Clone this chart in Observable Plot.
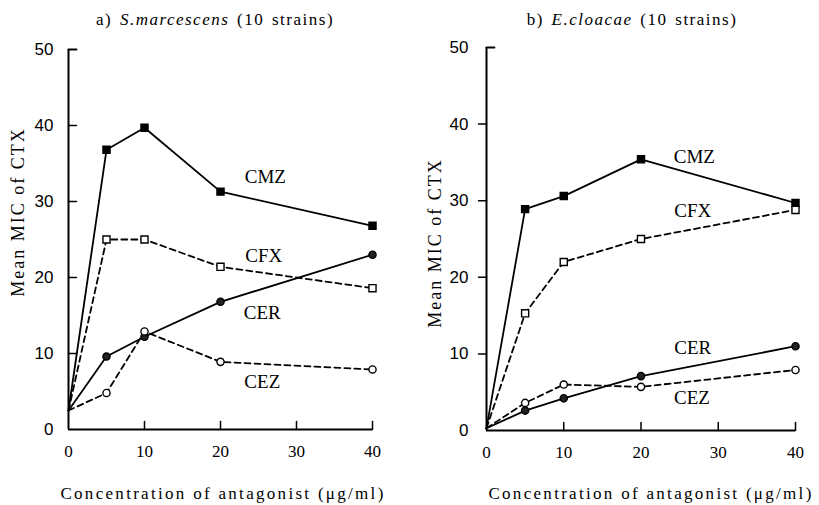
<!DOCTYPE html>
<html><head><meta charset="utf-8">
<script src="https://cdn.jsdelivr.net/npm/d3@7"></script>
<script src="https://cdn.jsdelivr.net/npm/@observablehq/plot@0.6"></script>
<style>
html,body{margin:0;padding:0;background:#fff;}
#wrap{position:relative;width:819px;height:505px;overflow:hidden;font-family:"Liberation Serif",serif;color:#000;}
.panel{position:absolute;top:0;}
.lbl{position:absolute;white-space:nowrap;transform:translate(-50%,-50%);}
.title{font-size:17px;letter-spacing:1.5px;word-spacing:2px;}
.xlab{font-size:17px;letter-spacing:2.3px;}
.ylab{font-size:18px;letter-spacing:2px;transform:translate(-50%,-50%) rotate(-90deg);}
</style></head><body><div id="wrap"></div>
<script>
// concentrations of antagonist (µg/ml)
const conc = [0, 5, 10, 20, 40];
const xTicks = [0, 10, 20, 30, 40];
const yTicks = [0, 10, 20, 30, 40, 50];
const seriesNames = ["CMZ", "CFX", "CER", "CEZ"];

// a) S. marcescens — mean MIC of CTX
const smCMZ = [2.5, 36.8, 39.7, 31.3, 26.8];
const smCFX = [2.5, 25.0, 25.0, 21.4, 18.6];
const smCER = [2.5, 9.6, 12.2, 16.8, 23.0];
const smCEZ = [2.5, 4.8, 12.9, 8.9, 7.9];

// b) E. cloacae — mean MIC of CTX
const ecCMZ = [0.3, 28.9, 30.6, 35.4, 29.7];
const ecCFX = [0.3, 15.3, 22.0, 25.0, 28.8];
const ecCER = [0.3, 2.6, 4.2, 7.1, 11.0];
const ecCEZ = [0.3, 3.6, 6.0, 5.7, 7.9];

// series label anchors (data units)
const smLabelX = [25.9, 25.7, 25.5, 25.5];
const smLabelY = [33.2, 22.9, 15.4, 6.2];
const ecLabelX = [26.9, 26.7, 26.7, 26.6];
const ecLabelY = [35.7, 28.7, 10.8, 4.2];

const titleA = "a) <i>S.marcescens</i> (10 strains)";
const titleB = "b) <i>E.cloacae</i> (10 strains)";
const xLabel = "Concentration of antagonist (μg/ml)";
const yLabel = "Mean MIC of CTX";

const styles = {
  CMZ: {dash: null, symbol: "square", fill: "black", r: 4},
  CFX: {dash: "6,4", symbol: "square", fill: "white", r: 4},
  CER: {dash: null, symbol: "circle", fill: "#222", r: 3.6},
  CEZ: {dash: "6,4", symbol: "circle", fill: "white", r: 3.6}
};

const tickShape = {draw(ctx, l) { ctx.moveTo(0, 0); ctx.lineTo(0, -l); }};

function panel(cfg) {
  const values = [cfg.CMZ, cfg.CFX, cfg.CER, cfg.CEZ];
  const marks = [];
  seriesNames.forEach((s, i) => {
    const rows = conc.map((c, j) => ({x: c, y: values[i][j]}));
    marks.push(Plot.line(rows, {x: "x", y: "y", stroke: "black", strokeWidth: 1.8, strokeDasharray: styles[s].dash}));
  });
  seriesNames.forEach((s, i) => {
    const rows = conc.map((c, j) => ({x: c, y: values[i][j]})).filter(d => d.x > 0);
    marks.push(Plot.dot(rows, {x: "x", y: "y", symbol: styles[s].symbol, r: styles[s].r, fill: styles[s].fill, stroke: "black", strokeWidth: 1.4}));
  });
  const labels = seriesNames.map((s, i) => ({s, x: cfg.labelX[i], y: cfg.labelY[i]}));
  return Plot.plot({
    width: cfg.width, height: 505,
    marginLeft: cfg.ml, marginRight: cfg.mr, marginTop: cfg.mt, marginBottom: cfg.mb,
    x: {domain: [0, 40]},
    y: {domain: [0, 50]},
    style: {fontFamily: "Liberation Serif, serif", background: "white"},
    marks: [
      Plot.axisX({ticks: xTicks, tickSize: 0, tickPadding: 15, fontSize: 17, fontFamily: "Liberation Serif", label: null}),
      Plot.axisY({ticks: yTicks, tickSize: 0, tickPadding: cfg.yPad, fontSize: 17, fontFamily: "Liberation Sans", label: null}),
      Plot.ruleX([0], {strokeWidth: 2}),
      Plot.ruleY([0], {strokeWidth: 2}),
      Plot.vector(yTicks.filter(d => d > 0 && d < 50), {x: () => 0, y: d => d, length: 8, rotate: cfg.yTickRot, anchor: "start", shape: tickShape, stroke: "black", strokeWidth: 1.5}),
      Plot.vector(yTicks.filter(d => d === 50), {x: () => 0, y: d => d, length: 8, rotate: 90, anchor: "start", shape: tickShape, stroke: "black", strokeWidth: 1.8}),
      Plot.vector(xTicks.filter(d => d > 0), {x: d => d, y: () => 0, length: 8, rotate: 0, anchor: "start", shape: tickShape, stroke: "black", strokeWidth: 1.5}),
      ...marks,
      Plot.text(labels, {x: "x", y: "y", text: "s", fontSize: 19, fontFamily: "Liberation Serif", fill: "black"})
    ]
  });
}

const wrap = document.getElementById("wrap");
function place(el, left) { el.classList.add("panel"); el.style.left = left + "px"; wrap.appendChild(el); }
place(panel({CMZ: smCMZ, CFX: smCFX, CER: smCER, CEZ: smCEZ, labelX: smLabelX, labelY: smLabelY,
  width: 410, ml: 68, mr: 38, mt: 49, mb: 76, yPad: 15, yTickRot: 90}), 0);
place(panel({CMZ: ecCMZ, CFX: ecCFX, CER: ecCER, CEZ: ecCEZ, labelX: ecLabelX, labelY: ecLabelY,
  width: 409, ml: 76, mr: 24, mt: 47, mb: 75, yPad: 18, yTickRot: -90}), 410);

function label(html, cls, x, y) {
  const d = document.createElement("div");
  d.className = "lbl " + cls; d.innerHTML = html;
  d.style.left = x + "px"; d.style.top = y + "px";
  wrap.appendChild(d);
}
label(titleA, "title", 215, 20);
label(titleB, "title", 632, 20);
label(xLabel, "xlab", 223, 494);
label(xLabel, "xlab", 651, 494);
label(yLabel, "ylab", 18, 212);
label(yLabel, "ylab", 435, 243);
</script>
</body></html>
